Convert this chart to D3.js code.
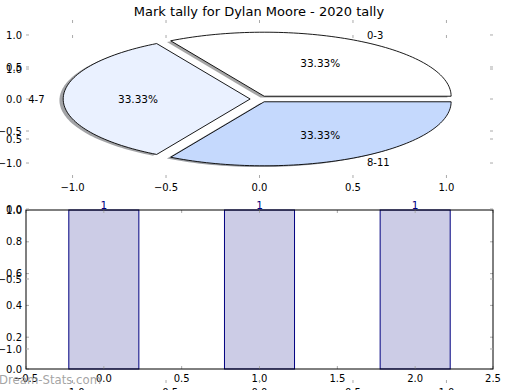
<!DOCTYPE html>
<html><head><meta charset="utf-8">
<script src="https://cdn.jsdelivr.net/npm/d3@7"></script>
<style>body{margin:0;background:#fff}svg{display:block}text{font-family:"DejaVu Sans",sans-serif}</style>
</head><body><svg id="c" width="520" height="390"></svg>
<script>
const title = "Mark tally for Dylan Moore - 2020 tally";
const pieLabels = ["0-3", "4-7", "8-11"];
const pieValues = [1, 1, 1];
const pieColors = ["#ffffff", "#eaf1ff", "#c5d9fd"];
const barCategories = [0, 1, 2];
const barValues = [1, 1, 1];
const pieTicks = [-1.0, -0.5, 0.0, 0.5, 1.0];
const barXTicks = [-0.5, 0.0, 0.5, 1.0, 1.5, 2.0, 2.5];
const barYTicks = [0.0, 0.2, 0.4, 0.6, 0.8, 1.0];
const watermark = "Dream-Stats.com";

const svg = d3.select("#c");
const tickCol = "#aaaaaa";
const fmt = d3.format(".1f");
const fmtL = v => fmt(v).replace("-", "\u2212");

function ticksAndLabels(g, xs, ys, xt, yt, opts) {
  const [x0, x1] = xs.range(), [y0, y1] = ys.range(); // y0 bottom, y1 top
  const L = 3;
  xt.forEach(v => {
    const x = xs(v);
    if (opts.top !== false) g.append("line").attr("x1", x).attr("x2", x).attr("y1", y1).attr("y2", y1 + L).attr("stroke", tickCol);
    g.append("line").attr("x1", x).attr("x2", x).attr("y1", y0).attr("y2", y0 - L).attr("stroke", tickCol);
    g.append("text").attr("x", x).attr("y", y0 + 12.5).attr("text-anchor", "middle").attr("font-size", 10).attr("fill", "#000").text(fmtL(v));
  });
  yt.forEach(v => {
    const y = ys(v);
    g.append("line").attr("x1", x0).attr("x2", x0 + L).attr("y1", y).attr("y2", y).attr("stroke", tickCol);
    g.append("line").attr("x1", x1).attr("x2", x1 - L).attr("y1", y).attr("y2", y).attr("stroke", tickCol);
    g.append("text").attr("x", x0 - 4).attr("y", y + 3.6).attr("text-anchor", "end").attr("font-size", 10).attr("fill", "#000").text(fmtL(v));
  });
}

// ---- bar axes ----
const bx = d3.scaleLinear().domain([-0.5, 2.5]).range([26, 493]);
const by = d3.scaleLinear().domain([0, 1]).range([369, 210]);
const gb = svg.append("g");
gb.append("rect").attr("x", 26).attr("y", 210).attr("width", 467).attr("height", 159).attr("fill", "#fff");
const bw = 0.45;
gb.selectAll("rect.bar").data(barValues).join("rect").attr("class", "bar")
  .attr("x", (d, i) => bx(barCategories[i] - bw / 2))
  .attr("width", (d, i) => bx(barCategories[i] + bw / 2) - bx(barCategories[i] - bw / 2))
  .attr("y", d => by(d)).attr("height", d => by(0) - by(d))
  .attr("fill", "rgb(204,204,230)").attr("stroke", "#000080").attr("stroke-width", 1);
ticksAndLabels(gb, bx, by, barXTicks, barYTicks, {});
gb.append("rect").attr("x", 26).attr("y", 210).attr("width", 467).attr("height", 159).attr("fill", "none").attr("stroke", "#000").attr("stroke-width", 1);
gb.selectAll("text.bl").data(barValues).join("text").attr("class", "bl")
  .attr("x", (d, i) => bx(barCategories[i])).attr("y", d => by(d) - 1)
  .attr("text-anchor", "middle").attr("font-size", 10.5).attr("fill", "#000080").text(d => d);

// ---- third (full) axes ----
const tx = d3.scaleLinear().domain([-1.249, 1.249]).range([26, 493]);
const ty = d3.scaleLinear().domain([-1.243, 1.243]).range([383, 35]);
const gt = svg.append("g");
ticksAndLabels(gt, tx, ty, pieTicks, pieTicks, {});

// ---- pie axes ----
const px = d3.scaleLinear().domain([-1.249, 1.249]).range([26, 493]);
const py = d3.scaleLinear().domain([-1.234, 1.234]).range([178, 20]);
const gp = svg.append("g");
ticksAndLabels(gp, px, py, pieTicks, pieTicks, {});

const arcs = d3.pie().sort(null).startAngle(0).endAngle(2 * Math.PI)(pieValues);
const explode = 0.05;
function wedgePath(a, ox, oy) {
  const mid = (a.startAngle + a.endAngle) / 2;
  const cx = explode * Math.cos(mid) + ox, cy = explode * Math.sin(mid) + oy;
  const pts = [[cx, cy]];
  const n = 80;
  for (let k = 0; k <= n; k++) {
    const t = a.startAngle + (a.endAngle - a.startAngle) * k / n;
    pts.push([cx + Math.cos(t), cy + Math.sin(t)]);
  }
  return d3.line().x(p => px(p[0])).y(p => py(p[1]))(pts) + "Z";
}
arcs.forEach((a, i) => {
  const c = d3.rgb(pieColors[i]);
  gp.append("path").attr("d", wedgePath(a, -0.02, -0.02))
    .attr("fill", d3.rgb(c.r * 0.3, c.g * 0.3, c.b * 0.3)).attr("fill-opacity", 0.5);
  gp.append("path").attr("d", wedgePath(a, 0, 0))
    .attr("fill", pieColors[i]).attr("stroke", "#000").attr("stroke-width", 0.9).attr("stroke-linejoin", "round");
});
arcs.forEach((a, i) => {
  const mid = (a.startAngle + a.endAngle) / 2;
  const cx = explode * Math.cos(mid), cy = explode * Math.sin(mid);
  const lx = cx + 1.1 * Math.cos(mid), ly = cy + 1.1 * Math.sin(mid);
  gp.append("text").attr("x", px(lx)).attr("y", py(ly) + 3.6)
    .attr("text-anchor", lx > 0 ? "start" : "end").attr("font-size", 10).text(pieLabels[i]);
  const qx = cx + 0.6 * Math.cos(mid), qy = cy + 0.6 * Math.sin(mid);
  const pct = (100 * a.value / d3.sum(pieValues)).toFixed(2) + "%";
  gp.append("text").attr("x", px(qx)).attr("y", py(qy) + 3.6)
    .attr("text-anchor", "middle").attr("font-size", 10.5).text(pct);
});

svg.append("text").attr("x", 259).attr("y", 16).attr("text-anchor", "middle").attr("font-size", 13).text(title);
svg.append("text").attr("x", -1).attr("y", 384).attr("font-size", 11.7).attr("fill", "#999").attr("fill-opacity", 0.9).text(watermark);
</script></body></html>
